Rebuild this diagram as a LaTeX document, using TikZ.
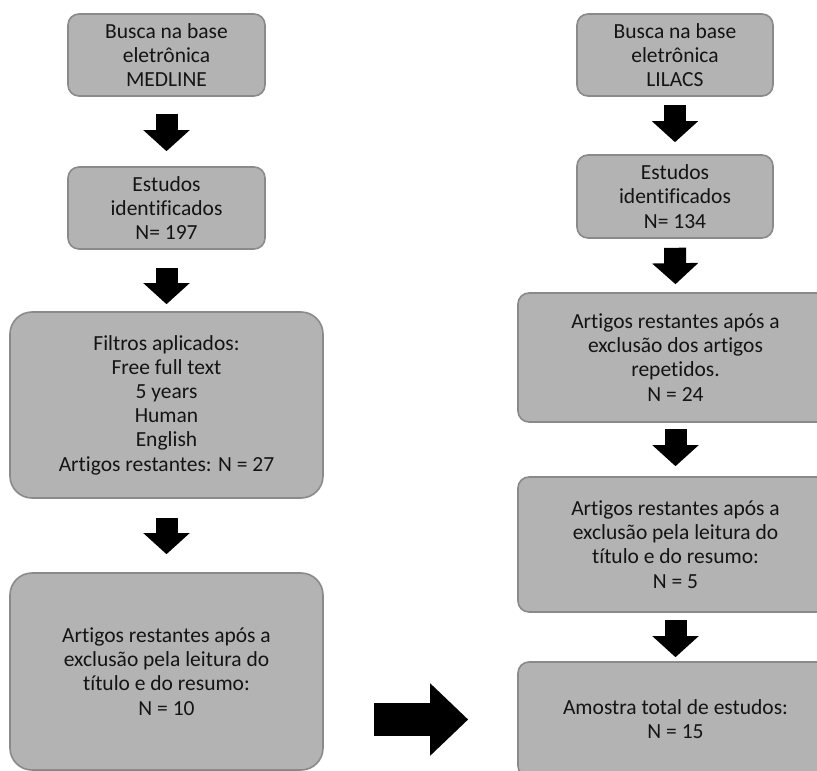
\documentclass[tikz,border=0pt]{standalone}
\usepackage{fontspec}
\setmainfont[Ligatures=NoCommon]{Carlito}
\usetikzlibrary{arrows.meta,calc}

\definecolor{boxfill}{HTML}{B3B3B3}
\definecolor{boxline}{HTML}{8A8A8A}
\definecolor{textcol}{HTML}{141414}

\tikzset{
  caixa/.style={draw=boxline, fill=boxfill, line width=1.6pt, rounded corners=11pt,
    align=center, inner sep=0pt, text=textcol, font=\fontsize{21.5}{24.2}\selectfont},
  caixagrande/.style={caixa, rounded corners=22pt},
  seta/.style={line width=22pt, -{Triangle[width=45pt,length=21pt]}},
  setagrande/.style={line width=33pt, -{Triangle[width=70pt,length=38pt]}}
}

\begin{document}
\begin{tikzpicture}[x=1pt,y=-1pt]
\clip (0,0) rectangle (817,771);
\node[caixa, minimum width=197pt, minimum height=82pt] (medline) at (166.5,55) {Busca na base\\eletrônica\\MEDLINE};
\node[caixa, minimum width=197pt, minimum height=82pt] (estudosm) at (166.5,208) {Estudos\\identificados\\N= 197};
\node[caixagrande, minimum width=313pt, minimum height=186pt] (filtros) at (166.5,405) {Filtros aplicados:\\Free full text\\5 years\\Human\\English\\Artigos restantes: N = 27};
\node[caixagrande, minimum width=313pt, minimum height=197pt] (leituram) at (166.5,671.5) {Artigos restantes após a\\exclusão pela leitura do\\título e do resumo:\\N = 10};

\node[caixa, minimum width=196pt, minimum height=82pt] (lilacs) at (675,55) {Busca na base\\eletrônica\\LILACS};
\node[caixa, minimum width=196pt, minimum height=83pt] (estudosl) at (675,196.5) {Estudos\\identificados\\N= 134};
\node[caixa, minimum width=315pt, minimum height=129pt] (repetidos) at (675.5,357.5) {Artigos restantes após a\\exclusão dos artigos\\repetidos.\\N = 24};
\node[caixa, minimum width=315pt, minimum height=135pt] (leitural) at (675.5,544.5) {Artigos restantes após a\\exclusão pela leitura do\\título e do resumo:\\N = 5};
\node[caixa, minimum width=315pt, minimum height=115pt] (amostra) at (675.5,719.5) {Amostra total de estudos:\\N = 15};

\draw[seta] ([yshift=-17pt]medline.south) -- ([yshift=15pt]estudosm.north);
\draw[seta] ([yshift=-18pt]estudosm.south) -- ([yshift=7pt]filtros.north);
\draw[seta] ([yshift=-19pt]filtros.south) -- ([yshift=18pt]leituram.north);
\draw[seta] ([yshift=-8pt]lilacs.south) -- ([yshift=12pt]estudosl.north);
\draw[seta] ([yshift=-9pt]estudosl.south) -- ([yshift=8pt]repetidos.north);
\draw[seta] ([yshift=-6pt]repetidos.south) -- ([yshift=10pt]leitural.north);
\draw[seta] ([yshift=-7pt]leitural.south) -- ([yshift=4pt]amostra.north);
\draw[setagrande] ($(leituram.east |- amostra.west)+(50,0)$) -- ($(amostra.west)+(-49,0)$);
\end{tikzpicture}
\end{document}
